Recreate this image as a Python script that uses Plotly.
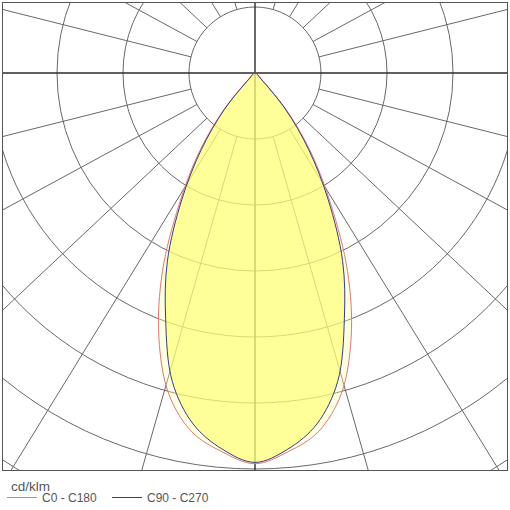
import numpy as np
import plotly.graph_objects as go

gamma = [0, 5, 10, 15, 20, 25, 30, 35, 40, 45, 50]
c0_c180 = [296, 288, 276, 252, 213, 166, 115, 75, 39, 8, 0]
c90_c270 = [295, 286, 270, 242, 198, 157, 111, 71, 36, 6, 0]

series_names = ['C0 - C180', 'C90 - C270']
series_colors = ['#e07878', '#3a3a86']
unit_label = 'cd/klm'

ring_step = 50
rings = [50, 100, 150, 200, 250, 300, 350]
spoke_angles = list(range(15, 360, 15))

px_per_unit = 66 / ring_step
W, H = 510, 510
ML, MR, MT, MB = 3, 3, 3, 40
plot_w, plot_h = W - ML - MR, H - MT - MB


def lobe(values):
	# mirror the half-plane so the curve runs C180 side -> nadir -> C0 side
	g = np.radians(np.concatenate([-np.array(gamma[::-1]), np.array(gamma[1:])]))
	r = np.concatenate([np.array(values[::-1]), np.array(values[1:])])
	return r * np.sin(g), -r * np.cos(g)


def px_x(px):
	return (px - ML) / plot_w


def px_y(py):
	return (H - MB - py) / plot_h


fig = go.Figure()

x_red, y_red = lobe(c0_c180)
x_blue, y_blue = lobe(c90_c270)

fig.add_trace(go.Scatter(x=x_red, y=y_red, mode='lines', fill='toself',
	fillcolor='rgba(255,255,170,0.35)', line=dict(width=0, shape='spline'),
	hoverinfo='skip'))
fig.add_trace(go.Scatter(x=x_blue, y=y_blue, mode='lines', fill='toself',
	fillcolor='rgba(255,255,110,0.62)', line=dict(width=0, shape='spline'),
	hoverinfo='skip'))
fig.add_trace(go.Scatter(x=x_red, y=y_red, mode='lines', name=series_names[0],
	line=dict(color=series_colors[0], width=1, shape='spline')))
fig.add_trace(go.Scatter(x=x_blue, y=y_blue, mode='lines', name=series_names[1],
	line=dict(color=series_colors[1], width=1, shape='spline')))

grid = dict(color='#686868', width=1)
shapes = []
for r in rings:
	shapes.append(dict(type='circle', xref='x', yref='y', x0=-r, y0=-r, x1=r, y1=r,
		line=grid, layer='below'))

# spokes start at the first ring; the plot draws them slightly squashed vertically
k = 0.94
for a in spoke_angles:
	if a % 90 == 0:
		continue
	t = np.radians(a)
	dx, dy = np.sin(t), -k * np.cos(t)
	n = np.hypot(dx, dy)
	dx, dy = dx / n, dy / n
	shapes.append(dict(type='line', xref='x', yref='y',
		x0=rings[0] * dx, y0=rings[0] * dy, x1=600 * dx, y1=600 * dy,
		line=grid, layer='below'))

axis_line = dict(color='#2a2a2a', width=1.4)
shapes.append(dict(type='line', xref='x', yref='y', x0=-400, y0=0, x1=400, y1=0,
	line=axis_line, layer='below'))
shapes.append(dict(type='line', xref='x', yref='y', x0=0, y0=-400, x1=0, y1=400,
	line=axis_line, layer='below'))

# hand-made legend under the frame
legend_font = dict(family='Liberation Sans, Arial, sans-serif', size=12, color='#555555')
row_y = px_y(497.5)
annotations = [dict(text=unit_label, xref='paper', yref='paper', x=px_x(9), y=px_y(486),
	xanchor='left', yanchor='middle', showarrow=False,
	font=dict(family='Liberation Sans, Arial, sans-serif', size=13.5, color='#555555'))]
for i, (name, color) in enumerate(zip(series_names, series_colors)):
	x0 = 7 + i * 105
	shapes.append(dict(type='line', xref='paper', yref='paper',
		x0=px_x(x0), x1=px_x(x0 + 30), y0=row_y, y1=row_y,
		line=dict(color=color, width=1)))
	annotations.append(dict(text=name, xref='paper', yref='paper', x=px_x(x0 + 33),
		y=row_y, xanchor='left', yanchor='middle', showarrow=False, font=legend_font))

x_half = 252 / px_per_unit
fig.update_layout(
	width=W, height=H,
	margin=dict(l=ML, r=MR, t=MT, b=MB),
	paper_bgcolor='white', plot_bgcolor='white',
	shapes=shapes, annotations=annotations,
	showlegend=False,
	xaxis=dict(range=[-x_half, x_half], showgrid=False, zeroline=False,
		showticklabels=False, ticks='', showline=True, mirror=True,
		linecolor='#555555', linewidth=1),
	yaxis=dict(range=[-397 / px_per_unit, 70 / px_per_unit], showgrid=False,
		zeroline=False, showticklabels=False, ticks='', showline=True,
		mirror=True, linecolor='#555555', linewidth=1),
)

fig.write_html("out.html", config={'displayModeBar': False},
	post_script="document.body.style.margin='0px';")
